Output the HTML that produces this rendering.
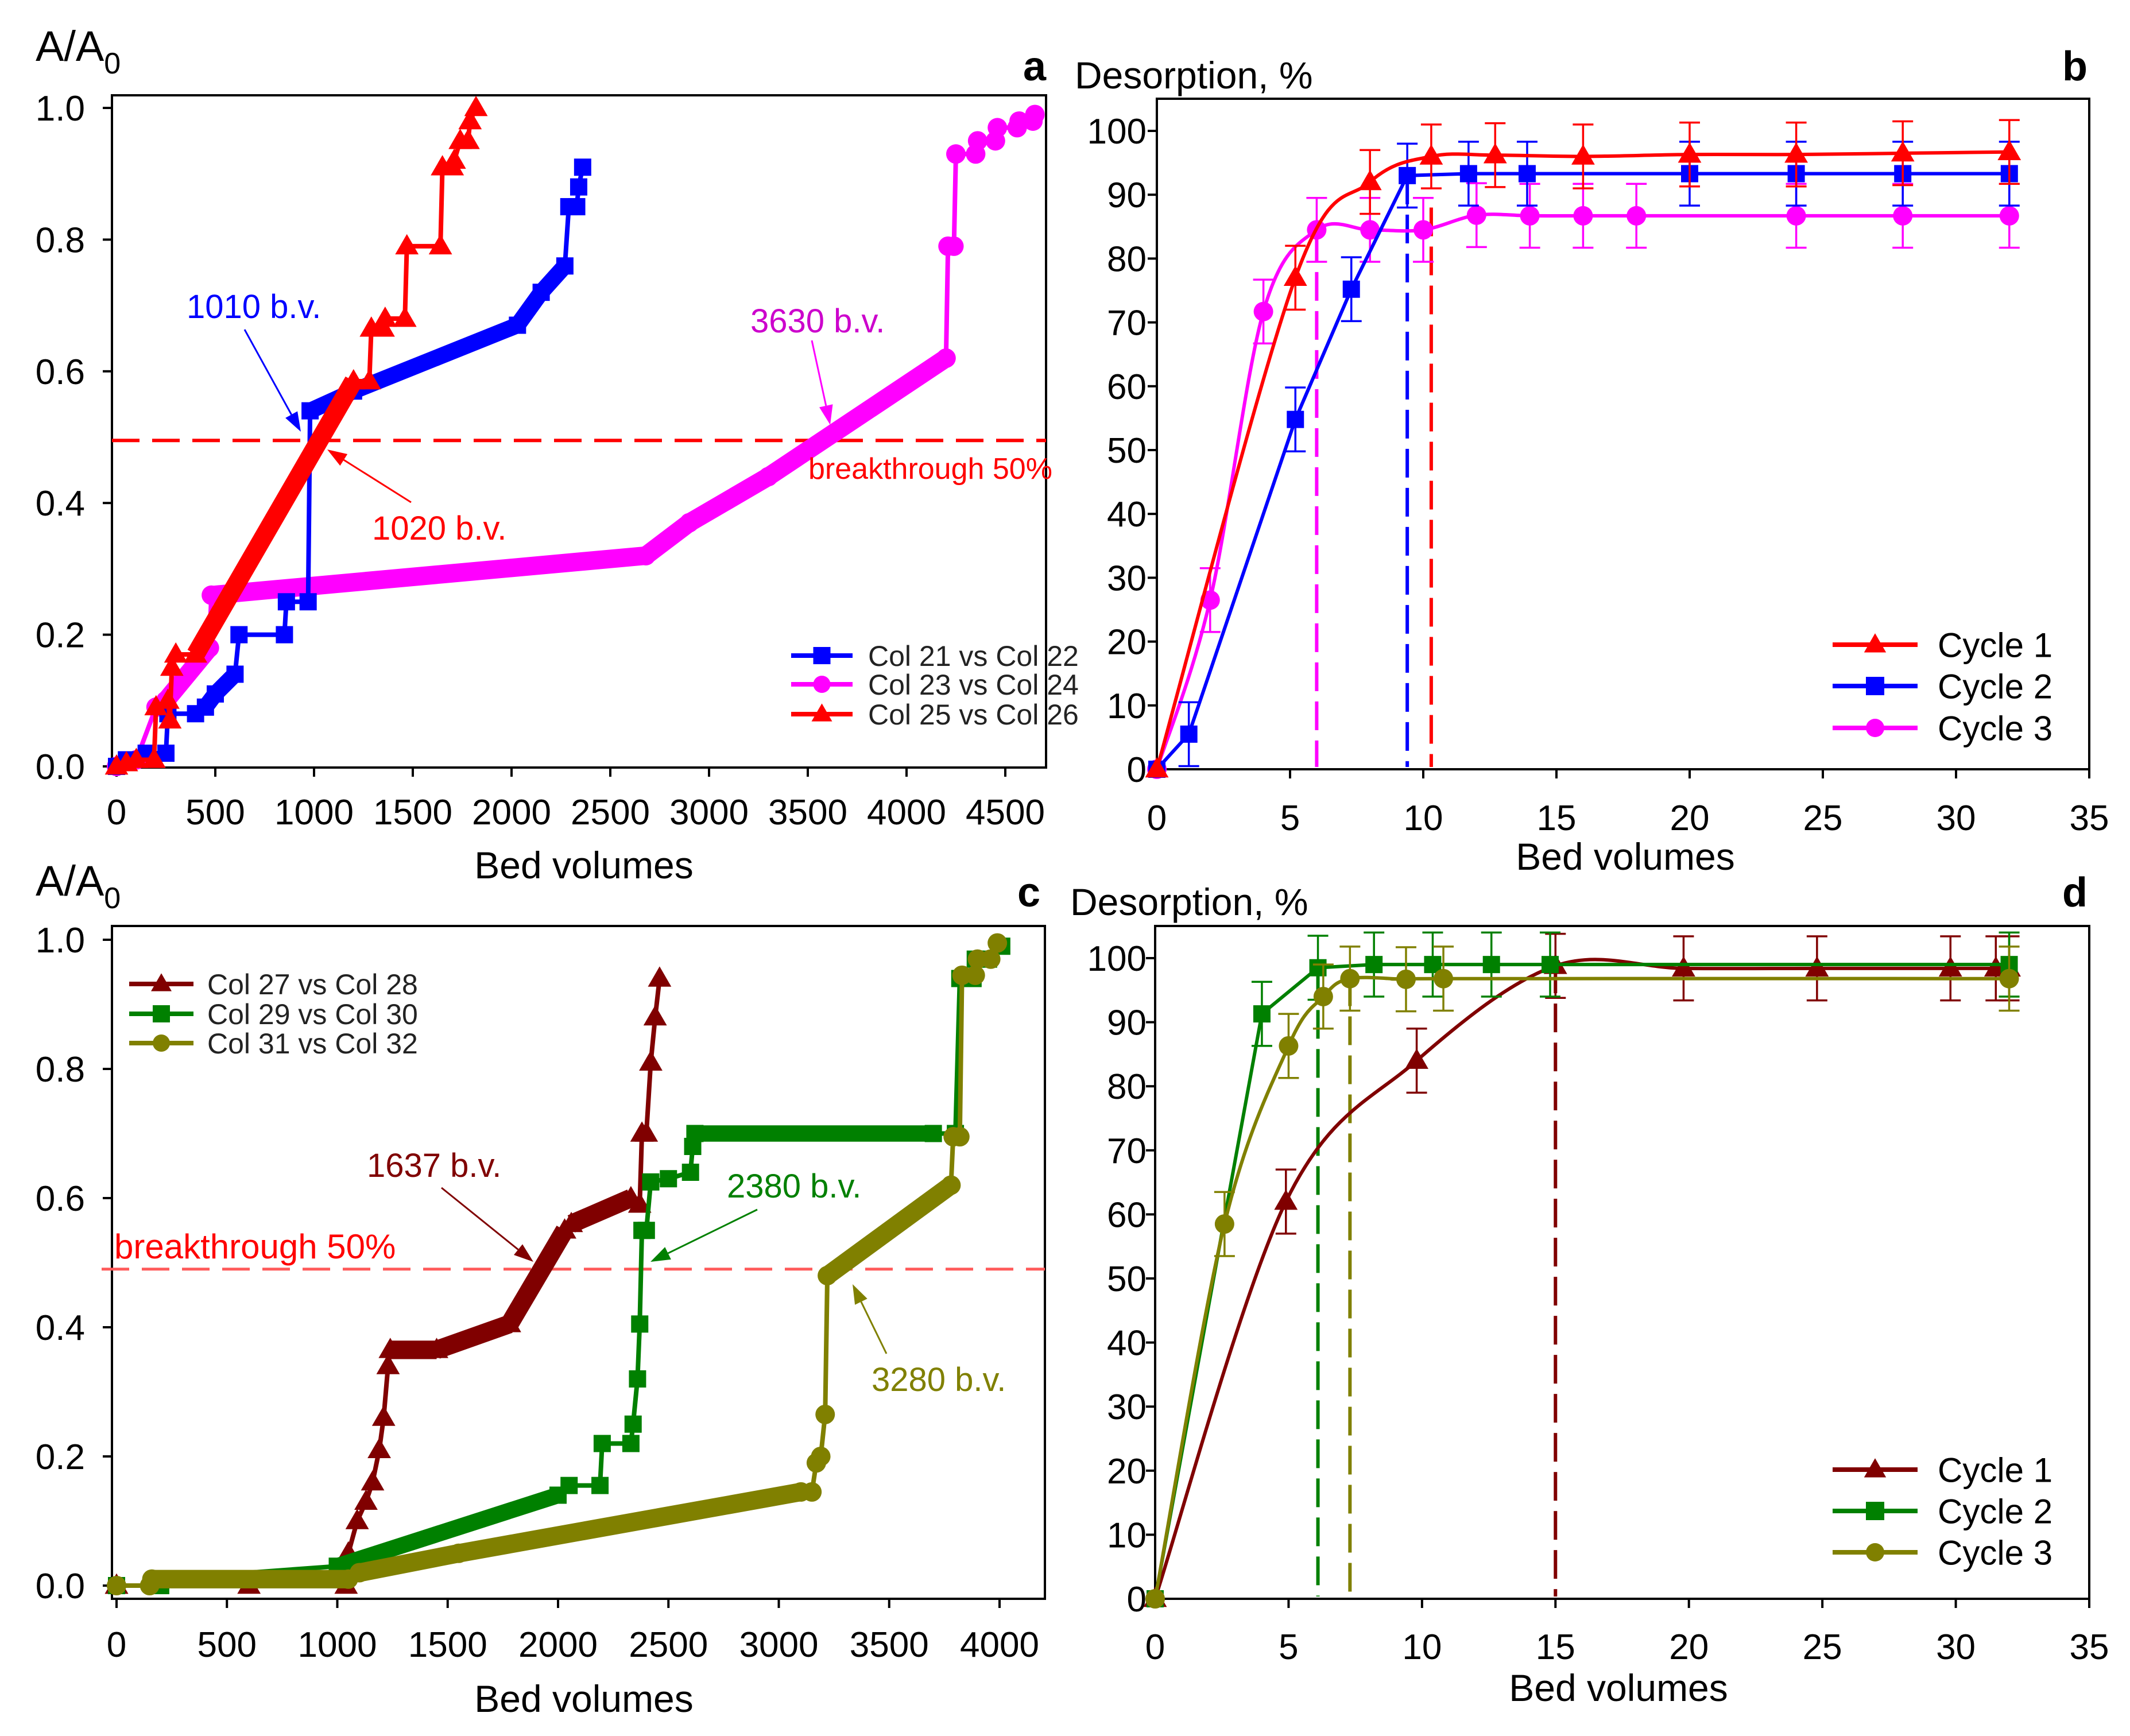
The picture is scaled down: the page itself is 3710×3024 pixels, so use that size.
<!DOCTYPE html>
<html><head><meta charset="utf-8">
<style>
html,body{margin:0;padding:0;background:#fff;}
svg{display:block;font-family:"Liberation Sans",Arial,sans-serif;}
</style></head>
<body>
<svg id="fig" width="3710" height="3024" viewBox="0 0 3710 3024" xmlns="http://www.w3.org/2000/svg">
<rect width="3710" height="3024" fill="#fff"/>
</svg>
<script>
// ---------- Panel a data: [bed volume, A/A0, dense-marker flag for segment ending here]
const aCol21 = [[0,0],[50,0.01],[150,0.02],[250,0.02],[260,0.08],[400,0.08],[450,0.09],[500,0.11,1],[600,0.14,1],[620,0.2],[850,0.2],[860,0.25],[970,0.25],[980,0.54],[1200,0.57,1],[2030,0.67,1],[2150,0.72,1],[2270,0.76,1],[2290,0.85],[2330,0.85],[2340,0.88],[2360,0.91]];
const aCol23 = [[0,0],[100,0.01],[200,0.09],[250,0.1],[470,0.18,1],[480,0.26],[2680,0.32,1],[2900,0.37,1],[3300,0.44,1],[4200,0.62,1],[4210,0.79],[4240,0.79],[4250,0.93],[4350,0.93],[4360,0.95],[4450,0.95],[4460,0.97],[4560,0.97],[4570,0.98],[4640,0.98],[4650,0.99]];
const aCol25 = [[0,0],[50,0.005],[100,0.01],[190,0.01],[200,0.09],[260,0.1],[270,0.07],[280,0.15],[300,0.17],[400,0.17],[1200,0.585,1],[1280,0.585],[1290,0.665],[1350,0.665],[1360,0.68],[1460,0.68],[1470,0.79],[1640,0.79],[1650,0.91],[1700,0.91],[1710,0.92],[1740,0.95],[1780,0.95],[1790,0.98],[1820,1.0]];
const aBreak = 0.495;
const aXTicks = [0,500,1000,1500,2000,2500,3000,3500,4000,4500];
const aYTicks = [0,0.2,0.4,0.6,0.8,1.0];
// ---------- Panel b data
const bX1 = [0,5.2,8,10.3,12.7,16,20,24,28,32];
const bY1 = [0,77,92,96,96.2,96,96.3,96.3,96.5,96.7];
const bX2 = [0,1.2,5.2,7.3,9.4,11.7,13.9,20,24,28,32];
const bY2 = [0,5.5,54.8,75.2,93,93.3,93.3,93.3,93.3,93.3,93.3];
const bX3 = [0,2,4,6,8,10,12,14,16,18,24,28,32];
const bY3 = [0,26.5,71.7,84.5,84.5,84.5,86.8,86.7,86.7,86.7,86.7,86.7,86.7];
const bErr = 5;
const bVLines = [[6,84],[9.4,93],[10.3,88]];
// ---------- Panel c data
const cCol27 = [[0,0],[600,0],[0,0],[1040,0],[1050,0.05],[1090,0.1],[1130,0.13],[1160,0.16],[1190,0.21],[1210,0.26],[1230,0.34],[1240,0.365],[1450,0.365,1],[1780,0.405,1],[2030,0.55,1],[2060,0.56],[2330,0.6,1],[2370,0.59],[2380,0.7],[2400,0.7],[2420,0.81],[2440,0.88],[2460,0.94]];
const cCol29 = [[0,0],[200,0],[200,0.01],[1000,0.03],[2000,0.14,1],[2050,0.155],[2190,0.155],[2200,0.22],[2330,0.22],[2340,0.25],[2360,0.32],[2370,0.405],[2380,0.55],[2400,0.55],[2420,0.625],[2500,0.63],[2600,0.64],[2610,0.68],[2620,0.7],[3700,0.7,1],[3800,0.7],[3820,0.94],[3880,0.94],[3890,0.97],[3950,0.97],[4010,0.99]];
const cCol31 = [[0,0],[150,0],[160,0.01],[1050,0.01,1],[1100,0.02],[1550,0.05,1],[3100,0.145,1],[3150,0.145],[3170,0.19],[3190,0.2],[3210,0.265],[3220,0.48],[3780,0.62,1],[3790,0.695],[3820,0.695],[3830,0.945],[3890,0.945],[3900,0.97],[3960,0.97],[3990,0.995]];
const cBreak = 0.49;
const cXTicks = [0,500,1000,1500,2000,2500,3000,3500,4000];
// ---------- Panel d data
const dX1 = [0,4.9,9.8,15,19.8,24.8,29.8,31.5,32];
const dY1 = [0,62,84,98.8,98.4,98.4,98.4,98.4,98.4];
const dX2 = [0,4,6.1,8.2,10.4,12.6,14.8,32];
const dY2 = [0,91.3,98.5,99,99,99,99,99];
const dX3 = [0,2.6,5,6.3,7.3,9.4,10.8,32];
const dY3 = [0,58.5,86.3,94,96.8,96.7,96.8,96.8];
const dErr = 5;
const dVLines = [[6.1,98],[7.3,97],[15,99]];
const pctXTicks = [0,5,10,15,20,25,30,35];
const pctYTicks = [0,10,20,30,40,50,60,70,80,90,100];

const NS = "http://www.w3.org/2000/svg";
const svg = document.getElementById('fig');
function el(tag, attrs, parent){
  const e = document.createElementNS(NS, tag);
  for (const k in attrs) e.setAttribute(k, attrs[k]);
  (parent||svg).appendChild(e);
  return e;
}
function scale(d0,d1,p0,p1){return v => p0 + (v-d0)*(p1-p0)/(d1-d0);}
function txt(s, x, y, size, fill, anchor, parent, weight){
  const t = el('text',{x:x,y:y,'font-size':size,fill:fill||'#000','text-anchor':anchor||'start'},parent);
  if (weight) t.setAttribute('font-weight', weight);
  t.textContent = s;
  return t;
}
function marker(shape, x, y, s, color, parent){
  let m;
  if (shape==='tri') m = el('polygon',{points:`${x},${y-s*0.62} ${x-s*0.6},${y+s*0.42} ${x+s*0.6},${y+s*0.42}`,fill:color},parent);
  else if (shape==='sq') m = el('rect',{x:x-s/2,y:y-s/2,width:s,height:s,fill:color},parent);
  else m = el('circle',{cx:x,cy:y,r:s/2,fill:color},parent);
  
  
  return m;
}
function smoothPath(pts){
  let d = `M${pts[0][0]},${pts[0][1]}`;
  for (let i=0;i<pts.length-1;i++){
    const p0=pts[Math.max(0,i-1)], p1=pts[i], p2=pts[i+1], p3=pts[Math.min(pts.length-1,i+2)];
    const c1=[p1[0]+(p2[0]-p0[0])/6, p1[1]+(p2[1]-p0[1])/6];
    const c2=[p2[0]-(p3[0]-p1[0])/6, p2[1]-(p3[1]-p1[1])/6];
    d += ` C${c1[0]},${c1[1]} ${c2[0]},${c2[1]} ${p2[0]},${p2[1]}`;
  }
  return d;
}
function frame(name, box, sx, sy, xt, yt, yfmt, xLabelY, yLabelX){
  const g = el('g',{});
  
  
  const fr = el('rect',{x:box.l,y:box.t,width:box.r-box.l,height:box.b-box.t,fill:'none',stroke:'#000','stroke-width':4},g);
  
  
  xt.forEach(v=>{
    const x=sx(v);
    el('line',{x1:x,y1:box.b,x2:x,y2:box.b+16,stroke:'#000','stroke-width':4},g);
    const t=txt(String(v),x,xLabelY,62,'#000','middle',g);
    
    
  });
  yt.forEach(v=>{
    const y=sy(v);
    el('line',{x1:box.l,y1:y,x2:box.l-16,y2:y,stroke:'#000','stroke-width':4},g);
    const t=txt(yfmt(v),yLabelX,y+22,62,'#000','end',g);
    
    
  });
  return g;
}
function stepSeries(name, data, sx, sy, color, shape, ms){
  const g = el('g',{});
  
  
  const pts = data.map(p=>[sx(p[0]),sy(p[1])]);
  el('polyline',{points:pts.map(p=>p.join(',')).join(' '),fill:'none',stroke:color,'stroke-width':8,'stroke-linejoin':'round'},g);
  for (let i=1;i<data.length;i++){
    if (data[i][2]) el('line',{x1:pts[i-1][0],y1:pts[i-1][1],x2:pts[i][0],y2:pts[i][1],stroke:color,'stroke-width':ms*0.95,'stroke-linecap':'butt'},g);
  }
  pts.forEach(p=>marker(shape,p[0],p[1],ms,color,g));
  return g;
}
function cycleSeries(name, xs, ys, err, sx, sy, color, shape, smooth, ms){
  const g = el('g',{});
  
  
  const pts = xs.map((x,i)=>[sx(x),sy(ys[i])]);
  if (smooth) el('path',{d:smoothPath(pts),fill:'none',stroke:color,'stroke-width':6},g);
  else el('polyline',{points:pts.map(p=>p.join(',')).join(' '),fill:'none',stroke:color,'stroke-width':6},g);
  xs.forEach((x,i)=>{
    if (i===0) return;
    const px=sx(x), y1=sy(ys[i]+err), y2=sy(ys[i]-err);
    const eb = el('path',{d:`M${px},${y1}V${y2}M${px-18},${y1}H${px+18}M${px-18},${y2}H${px+18}`,stroke:color,'stroke-width':3.5,fill:'none'},g);
    
    
  });
  pts.forEach(p=>marker(shape,p[0],p[1],ms,color,g));
  return g;
}
function legend(name, items, x1, x2, ys, tx, size, ms, tcolor){
  const g = el('g',{});
  
  
  items.forEach((it,i)=>{
    const e = el('g',{},g);
    
    
    el('line',{x1:x1,y1:ys[i],x2:x2,y2:ys[i],stroke:it[1],'stroke-width':8},e);
    marker(it[2],(x1+x2)/2,ys[i],ms,it[1],e);
    txt(it[0],tx,ys[i]+size*0.36,size,tcolor,'start',e);
  });
}
function arrow(x1,y1,x2,y2,color,name){
  const a = Math.atan2(y2-y1,x2-x1), L=34, W=12;
  const g = el('g',{});
  
  
  const bx=x2-L*Math.cos(a), by=y2-L*Math.sin(a);
  el('line',{x1:x1,y1:y1,x2:bx,y2:by,stroke:color,'stroke-width':3},g);
  el('polygon',{points:`${x2},${y2} ${bx+W*Math.sin(a)},${by-W*Math.cos(a)} ${bx-W*Math.sin(a)},${by+W*Math.cos(a)}`,fill:color},g);
}
function label(s,x,y,size,color,name,anchor,weight){
  const t = txt(s,x,y,size,color,anchor,null,weight);
  
  
  return t;
}
function axisTitleA(x,y,name){
  const t = el('text',{x:x,y:y,'font-size':74,fill:'#000'});
  
  
  t.textContent='A/A';
  const s = el('tspan',{dy:22,'font-size':52},t);
  s.textContent='0';
}

// ================= Panel a =================
const aBox={l:195,r:1822,t:166,b:1337};
const axS=scale(0,4500,203,1751), ayS=scale(0,1,1335,188);
frame('panel-a',aBox,axS,ayS,aXTicks,aYTicks,v=>v.toFixed(1),1436,148);
const aBL = el('line',{x1:aBox.l,y1:ayS(aBreak),x2:aBox.r,y2:ayS(aBreak),stroke:'#ff0000','stroke-width':6,'stroke-dasharray':'48 22'});


stepSeries('series-col23',aCol23,axS,ayS,'#ff00ff','circ',34);
stepSeries('series-col21',aCol21,axS,ayS,'#0000ff','sq',30);
stepSeries('series-col25',aCol25,axS,ayS,'#ff0000','tri',34);
label('1010 b.v.',325,554,58,'#0000ff','annotation-1010');
arrow(426,574,524,752,'#0000ff','arrow-1010');
label('1020 b.v.',648,940,58,'#ff0000','annotation-1020');
arrow(716,875,570,783,'#ff0000','arrow-1020');
label('3630 b.v.',1307,579,58,'#cc00cc','annotation-3630');
arrow(1414,593,1446,740,'#ff00ff','arrow-3630');
label('breakthrough 50%',1408,834,52,'#ff0000','breakthrough-label');
legend('legend-a',[['Col 21 vs Col 22','#0000ff','sq'],['Col 23 vs Col 24','#ff00ff','circ'],['Col 25 vs Col 26','#ff0000','tri']],1378,1485,[1142,1192,1244],1512,50,30,'#222');
axisTitleA(62,106,'y-axis-title-a');
label('a',1822,140,72,'#000','panel-label-a','end','bold');
label('Bed volumes',1017,1530,66,'#000','x-axis-title-a','middle');

// ================= Panel b =================
const bBox={l:2015,r:3639,t:172,b:1340};
const bxS=scale(0,35,2015,3639), byS=scale(0,100,1340,228);
frame('panel-b',bBox,bxS,byS,pctXTicks,pctYTicks,v=>String(v),1446,1997);
const bCols=['#ff00ff','#0000ff','#ff0000'];
bVLines.forEach((v,i)=>{
  const l=el('line',{x1:bxS(v[0]),y1:byS(v[1]),x2:bxS(v[0]),y2:bBox.b-4,stroke:bCols[i],'stroke-width':6,'stroke-dasharray':'50 18'});
  
  
});
cycleSeries('series-b-cycle3',bX3,bY3,bErr,bxS,byS,'#ff00ff','circ',true,34);
cycleSeries('series-b-cycle2',bX2,bY2,bErr,bxS,byS,'#0000ff','sq',false,30);
cycleSeries('series-b-cycle1',bX1,bY1,bErr,bxS,byS,'#ff0000','tri',true,34);
legend('legend-b',[['Cycle 1','#ff0000','tri'],['Cycle 2','#0000ff','sq'],['Cycle 3','#ff00ff','circ']],3192,3340,[1123,1195,1268],3375,60,32,'#000');
label('Desorption, %',1872,154,66,'#000','y-axis-title-b');
label('b',3636,140,72,'#000','panel-label-b','end','bold');
label('Bed volumes',2831,1515,66,'#000','x-axis-title-b','middle');

// ================= Panel c =================
const cBox={l:195,r:1820,t:1613,b:2785};
const cxS=scale(0,4000,203,1741), cyS=scale(0,1,2762,1637);
frame('panel-c',cBox,cxS,cyS,cXTicks,aYTicks,v=>v.toFixed(1),2886,148);
const cBL = el('line',{x1:177,y1:cyS(cBreak),x2:cBox.r,y2:cyS(cBreak),stroke:'#ff5a5a','stroke-width':5,'stroke-dasharray':'48 22'});


stepSeries('series-col27',cCol27,cxS,cyS,'#800000','tri',34);
stepSeries('series-col29',cCol29,cxS,cyS,'#008000','sq',30);
stepSeries('series-col31',cCol31,cxS,cyS,'#808000','circ',34);
label('1637 b.v.',639,2050,58,'#800000','annotation-1637');
arrow(769,2069,929,2198,'#800000','arrow-1637');
label('2380 b.v.',1266,2086,58,'#008000','annotation-2380');
arrow(1319,2107,1133,2198,'#008000','arrow-2380');
label('3280 b.v.',1518,2423,58,'#808000','annotation-3280');
arrow(1544,2358,1485,2237,'#808000','arrow-3280');
label('breakthrough 50%',199,2192,60,'#ff0000','breakthrough-label-c');
legend('legend-c',[['Col 27 vs Col 28','#800000','tri'],['Col 29 vs Col 30','#008000','sq'],['Col 31 vs Col 32','#808000','circ']],225,337,[1714,1766,1817],361,50,30,'#222');
axisTitleA(62,1560,'y-axis-title-c');
label('c',1812,1579,72,'#000','panel-label-c','end','bold');
label('Bed volumes',1017,2982,66,'#000','x-axis-title-c','middle');

// ================= Panel d =================
const dBox={l:2012,r:3639,t:1613,b:2785};
const dxS=scale(0,35,2012,3639), dyS=scale(0,100,2785,1669);
frame('panel-d',dBox,dxS,dyS,pctXTicks,pctYTicks,v=>String(v),2890,1997);
const dCols=['#008000','#808000','#800000'];
dVLines.forEach((v,i)=>{
  const l=el('line',{x1:dxS(v[0]),y1:dyS(v[1]),x2:dxS(v[0]),y2:dBox.b-4,stroke:dCols[i],'stroke-width':6,'stroke-dasharray':'50 18'});
  
  
});
cycleSeries('series-d-cycle1',dX1,dY1,dErr,dxS,dyS,'#800000','tri',true,34);
cycleSeries('series-d-cycle2',dX2,dY2,dErr,dxS,dyS,'#008000','sq',false,30);
cycleSeries('series-d-cycle3',dX3,dY3,dErr,dxS,dyS,'#808000','circ',true,34);
legend('legend-d',[['Cycle 1','#800000','tri'],['Cycle 2','#008000','sq'],['Cycle 3','#808000','circ']],3192,3340,[2560,2632,2704],3375,60,32,'#000');
label('Desorption, %',1864,1594,66,'#000','y-axis-title-d');
label('d',3636,1579,72,'#000','panel-label-d','end','bold');
label('Bed volumes',2819,2963,66,'#000','x-axis-title-d','middle');
</script>
</body></html>
